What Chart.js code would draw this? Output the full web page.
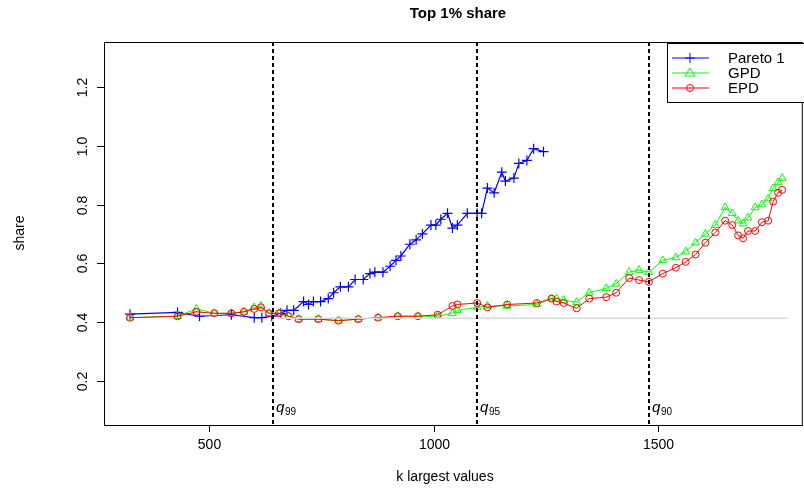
<!DOCTYPE html><html><head><meta charset="utf-8"><script src="https://cdn.jsdelivr.net/npm/chart.js@4"></script>
<style>body{margin:0;background:#fff}#w{width:804px;height:488px}</style></head><body><div id="w"><canvas id="c"></canvas></div>
<script>
const paretoK=[323,429,478,549,600,617,639,659,673,688,710,721,732,748,765,777,792,810,825,843,858,869,887,903,916,927,947,961,975,994,1005,1016,1031,1042,1053,1075,1097,1107,1120,1135,1152,1160,1179,1190,1208,1223,1245];
const paretoV=[0.427,0.433,0.42,0.425,0.415,0.415,0.42,0.43,0.44,0.44,0.47,0.46,0.47,0.47,0.48,0.50,0.52,0.52,0.545,0.545,0.565,0.57,0.57,0.59,0.61,0.625,0.665,0.68,0.70,0.73,0.73,0.75,0.77,0.72,0.73,0.77,0.77,0.77,0.856,0.84,0.91,0.88,0.89,0.94,0.95,0.99,0.98];
const tailK=[323,429,471,511,549,577,600,615,633,655,677,699,743,788,832,876,920,965,1009,1042,1053,1097,1120,1164,1230,1263,1274,1290,1319,1347,1385,1407,1436,1458,1480,1511,1540,1562,1584,1606,1628,1650,1666,1679,1690,1701,1717,1732,1746,1757,1768,1777];
const gpdV=[0.415,0.42,0.445,0.43,0.43,0.435,0.45,0.455,0.43,0.43,0.42,0.41,0.41,0.405,0.41,0.415,0.42,0.42,0.42,0.43,0.44,0.45,0.455,0.455,0.46,0.48,0.48,0.475,0.468,0.50,0.515,0.53,0.57,0.577,0.57,0.61,0.62,0.64,0.67,0.70,0.73,0.79,0.77,0.745,0.735,0.755,0.79,0.80,0.82,0.855,0.875,0.89];
const epdV=[0.415,0.42,0.435,0.43,0.43,0.435,0.445,0.45,0.43,0.43,0.42,0.41,0.41,0.405,0.41,0.415,0.42,0.42,0.425,0.455,0.46,0.465,0.45,0.46,0.465,0.48,0.47,0.465,0.447,0.48,0.485,0.50,0.55,0.543,0.537,0.565,0.585,0.605,0.63,0.67,0.705,0.745,0.73,0.695,0.685,0.71,0.71,0.74,0.745,0.81,0.84,0.85];
const refLine=[[650,0.413],[1790,0.413]];
const quantK=[642,1097,1480];
const quantLab=['99','95','90'];
const xTicks=[500,1000,1500];
const yTicks=[0.2,0.4,0.6,0.8,1.0,1.2];
const pts=(k,v)=>k.map((x,i)=>({x,y:v[i]}));
const F='"Liberation Sans", Arial, sans-serif';
const deco={id:'deco',afterDraw(ch){
 const c=ch.ctx,a=ch.chartArea,xs=ch.scales.x,ys=ch.scales.y;
 c.save();c.strokeStyle='#000';c.lineWidth=1;c.fillStyle='#000';
 c.strokeRect(a.left+0.5,a.top+0.5,a.right-a.left+4,a.bottom-a.top);
 c.setLineDash([4,3]);c.lineWidth=2;
 quantK.forEach((k,i)=>{const x=Math.round(xs.getPixelForValue(k));c.beginPath();c.moveTo(x,a.top);c.lineTo(x,a.bottom);c.stroke();
  c.font='italic 15px '+F;c.textAlign='left';c.textBaseline='alphabetic';c.fillText('q',x+3,412);
  c.font='10px '+F;c.fillText(quantLab[i],x+12,415);});
 c.setLineDash([]);c.lineWidth=1;
 c.font='14px '+F;c.textAlign='center';c.textBaseline='top';
 xTicks.forEach(t=>{const x=Math.round(xs.getPixelForValue(t))+0.5;c.beginPath();c.moveTo(x,a.bottom);c.lineTo(x,a.bottom+7);c.stroke();c.fillText(String(t),x,438);});
 yTicks.forEach(t=>{const y=Math.round(ys.getPixelForValue(t))+0.5;c.beginPath();c.moveTo(a.left,y);c.lineTo(a.left-7,y);c.stroke();
  c.save();c.translate(a.left-14,y);c.rotate(-Math.PI/2);c.textAlign='center';c.textBaseline='bottom';c.fillText(t.toFixed(1),0,0);c.restore();});
 c.font='bold 15px '+F;c.textBaseline='middle';c.fillText('Top 1% share',458,14);
 c.font='14px '+F;c.fillText('k largest values',445,477);
 c.save();c.translate(20,233);c.rotate(-Math.PI/2);c.fillText('share',0,0);c.restore();
 const lx=667,ly=43;c.fillStyle='#fff';c.fillRect(lx,ly,140,59);c.strokeRect(lx+0.5,ly+0.5,140,59);
 const items=[['Pareto 1','#0000ff','cross'],['GPD','#00ff00','tri'],['EPD','#ff0000','circ']];
 items.forEach((it,i)=>{const y=ly+15+i*15;c.strokeStyle=it[1];c.beginPath();c.moveTo(lx+5,y);c.lineTo(lx+42,y);c.stroke();
  const m=lx+23;c.beginPath();
  if(it[2]=='cross'){c.moveTo(m-5,y);c.lineTo(m+5,y);c.moveTo(m,y-5);c.lineTo(m,y+5);}
  else if(it[2]=='tri'){c.moveTo(m,y-5);c.lineTo(m+5,y+3);c.lineTo(m-5,y+3);c.closePath();}
  else{c.arc(m,y,3.5,0,Math.PI*2);}
  c.stroke();c.fillStyle='#000';c.textAlign='left';c.textBaseline='middle';c.font='15px '+F;c.fillText(it[0],lx+61,y+1);});
 c.restore();}};
new Chart(document.getElementById('c'),{type:'line',
 data:{datasets:[
  {data:refLine.map(p=>({x:p[0],y:p[1]})),borderColor:'#d9d9d9',borderWidth:1.5,pointRadius:0},
  {data:pts(tailK,epdV),borderColor:'#ff0000',borderWidth:1,pointStyle:'circle',pointRadius:3.5,pointBorderColor:'#ff0000',pointBackgroundColor:'transparent'},
  {data:pts(tailK,gpdV),borderColor:'#00ff00',borderWidth:1,pointStyle:'triangle',pointRadius:4.5,pointBorderColor:'#00ff00',pointBackgroundColor:'transparent'},
  {data:pts(paretoK,paretoV),borderColor:'#0000ff',borderWidth:1.2,pointStyle:'cross',pointRadius:5,pointBorderColor:'#0000ff',pointBorderWidth:1.2}
 ]},
 options:{responsive:true,maintainAspectRatio:false,animation:false,
  layout:{padding:{left:104,right:1,top:42,bottom:63}},
  plugins:{legend:{display:false},tooltip:{enabled:false}},
  scales:{x:{type:'linear',min:265,max:1812,display:false},y:{min:0.05,max:1.353,display:false}}},
 plugins:[deco]});
</script></body></html>
